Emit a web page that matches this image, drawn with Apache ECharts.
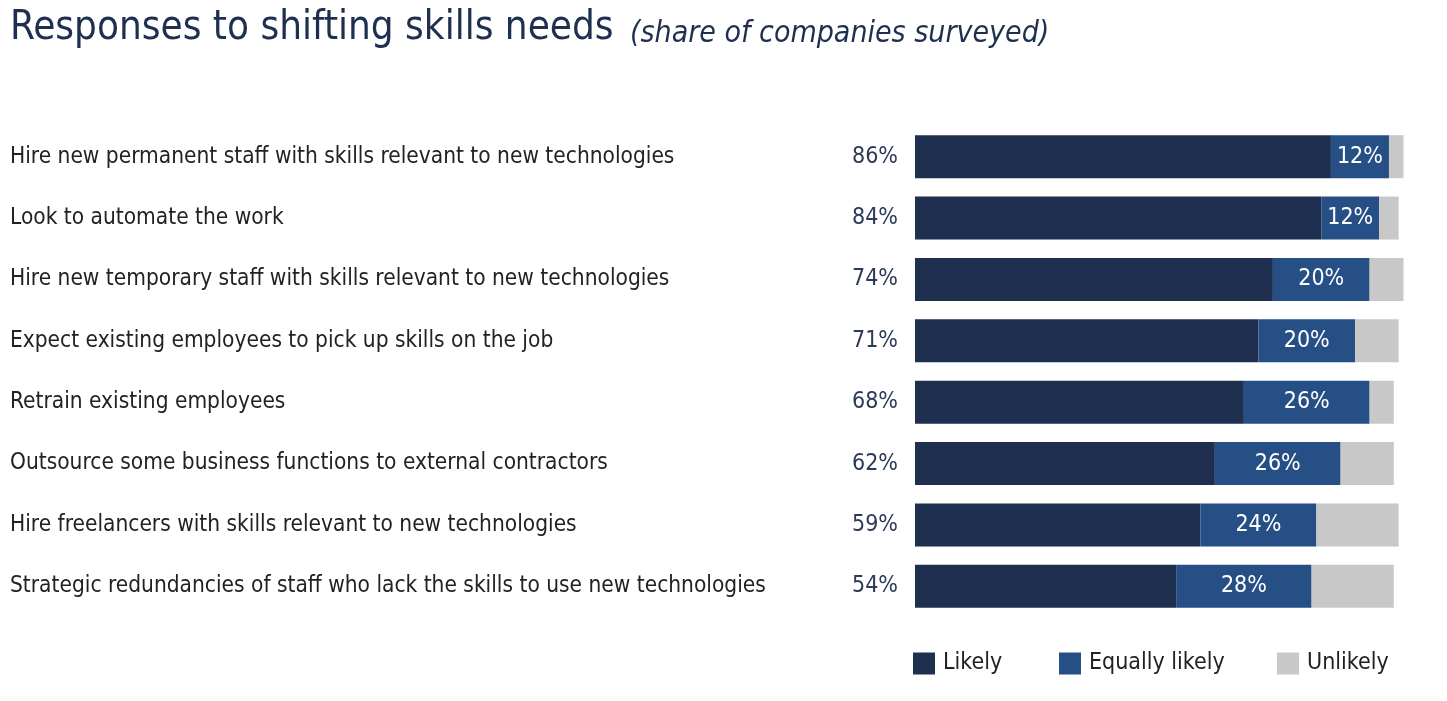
<!DOCTYPE html>
<html>
<head>
<meta charset="utf-8">
<script src="https://cdn.jsdelivr.net/npm/echarts@6/dist/echarts.min.js"></script>
<style>
html,body{margin:0;padding:0;background:#fff;}
#c{width:1447px;height:701px;}
</style>
</head>
<body>
<div id="c"></div>
<script>
const categories = [
  "Hire new permanent staff with skills relevant to new technologies",
  "Look to automate the work",
  "Hire new temporary staff with skills relevant to new technologies",
  "Expect existing employees to pick up skills on the job",
  "Retrain existing employees",
  "Outsource some business functions to external contractors",
  "Hire freelancers with skills relevant to new technologies",
  "Strategic redundancies of staff who lack the skills to use new technologies"
];
const likely = [86, 84, 74, 71, 68, 62, 59, 54];
const equallyLikely = [12, 12, 20, 20, 26, 26, 24, 28];
const unlikely = [3, 4, 7, 9, 5, 11, 17, 17];
const seriesNames = ["Likely", "Equally likely", "Unlikely"];
const legendLeft = [913, 1059, 1277];

const FONT = "'Liberation Sans Narrow', 'DejaVu Sans Condensed', 'Arial Narrow', sans-serif";
const NAVY = "#1e2f4f", BLUE = "#264f86", GREY = "#c8c8c8";

const chart = echarts.init(document.getElementById('c'), null, {renderer: 'canvas'});
chart.setOption({
  animation: false,
  backgroundColor: '#fff',
  title: [
    {text: 'Responses to shifting skills needs', left: 10, top: 9, padding: 0,
     textStyle: {fontFamily: FONT, fontSize: 40, fontWeight: 'normal', color: NAVY}},
    {text: '(share of companies surveyed)', left: 630, top: 19, padding: 0,
     textStyle: {fontFamily: FONT, fontSize: 30, fontStyle: 'italic', fontWeight: 'normal', color: NAVY}}
  ],
  legend: seriesNames.map((n, i) => ({
    data: [n], left: legendLeft[i], top: 652, padding: 0,
    icon: 'rect', itemWidth: 22, itemHeight: 22,
    textStyle: {fontFamily: FONT, fontSize: 23, color: '#222', padding: [0,0,0,3]}
  })),
  grid: {left: 915, top: 126, width: 532.4, height: 491, containLabel: false},
  xAxis: {type: 'value', min: 0, max: 110, show: false},
  yAxis: {
    type: 'category', data: categories, inverse: true,
    axisLine: {show: false}, axisTick: {show: false},
    axisLabel: {align: 'left', margin: 905, fontFamily: FONT, fontSize: 22.5, color: '#222'}
  },
  series: [
    {name: seriesNames[0], type: 'bar', stack: 's', data: likely, barWidth: 43,
     itemStyle: {color: NAVY},
     label: {show: true, position: 'left', distance: 17, formatter: '{c}%',
             fontFamily: FONT, fontSize: 23, color: '#2c3a58'}},
    {name: seriesNames[1], type: 'bar', stack: 's', data: equallyLikely,
     itemStyle: {color: BLUE},
     label: {show: true, position: 'inside', formatter: '{c}%',
             fontFamily: FONT, fontSize: 23, color: '#fff'}},
    {name: seriesNames[2], type: 'bar', stack: 's', data: unlikely,
     itemStyle: {color: GREY}}
  ]
});
</script>
</body>
</html>
